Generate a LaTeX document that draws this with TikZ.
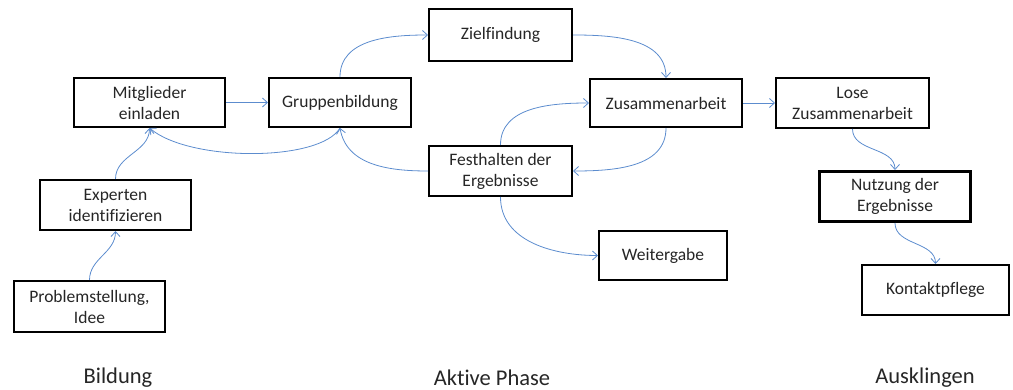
\documentclass[tikz,border=0pt]{standalone}
\usepackage{fontspec}
\setmainfont[Ligatures=NoCommon]{Carlito}
\usetikzlibrary{arrows.meta}
\definecolor{flow}{RGB}{92,140,206}
\tikzset{
  stage/.style={draw=black, line width=2pt, fill=white, align=center,
    inner sep=2pt, font=\fontsize{17.5}{21}\selectfont, text=black!85},
  flowline/.style={draw=flow, line width=0.8pt,
    -{Straight Barb[length=5pt,width=9pt,line width=0.8pt]}},
  phase/.style={font=\fontsize{22.5}{26}\selectfont, text=black!85}
}
\begin{document}
\begin{tikzpicture}[x=1pt,y=-1pt]
  \useasboundingbox (0,0) rectangle (1013,390);
  % Bildung
  \node[stage, minimum width=151pt, minimum height=51pt] (prob) at (89.5,306.5) {Problemstellung,\\Idee};
  \node[stage, minimum width=151pt, minimum height=50pt] (exp) at (115.5,205) {Experten\\identifizieren};
  \node[stage, minimum width=151pt, minimum height=49pt] (mit) at (149.5,102.5) {Mitglieder\\einladen};
  % Aktive Phase
  \node[stage, minimum width=142pt, minimum height=49pt] (grp) at (340,102.5) {Gruppenbildung};
  \node[stage, minimum width=143pt, minimum height=52pt] (ziel) at (500.5,35) {Zielfindung};
  \node[stage, minimum width=152pt, minimum height=48pt] (zus) at (666,103) {Zusammenarbeit};
  \node[stage, minimum width=143pt, minimum height=50pt] (fest) at (500.5,171) {Festhalten der\\Ergebnisse};
  \node[stage, minimum width=128pt, minimum height=49pt] (weit) at (663,255.5) {Weitergabe};
  % Ausklingen
  \node[stage, minimum width=153pt, minimum height=50pt] (lose) at (852.5,103) {Lose\\Zusammenarbeit};
  \node[stage, line width=3pt, minimum width=151pt, minimum height=50pt] (nutz) at (895,196.5) {Nutzung der\\Ergebnisse};
  \node[stage, minimum width=147pt, minimum height=50pt] (kont) at (935.5,290) {Kontaktpflege};
  % phase labels
  \node[phase] (l1) at (118,378) {Bildung};
  \node[phase] (l2) at (492,378) {Aktive Phase};
  \node[phase] (l3) at (925,378) {Ausklingen};
  % connectors
  \draw[flowline] (prob.north) to[out=90,in=-90] (exp.south);
  \draw[flowline] (exp.north) to[out=90,in=-90] (mit.south);
  \draw[flowline] (mit.east) -- (grp.west);
  \draw[flowline] (grp.south) .. controls +(-20,34) and +(40,34) .. (mit.south);
  \draw[flowline] (grp.north) to[out=90,in=180] (ziel.west);
  \draw[flowline] (ziel.east) to[out=0,in=90] (zus.north);
  \draw[flowline] (zus.south) to[out=-90,in=0] (fest.east);
  \draw[flowline] (fest.north) to[out=90,in=180] (zus.west);
  \draw[flowline] (fest.west) to[out=180,in=-80] (grp.south);
  \draw[flowline] (fest.south) to[out=-90,in=180] (weit.west);
  \draw[flowline] (zus.east) -- (lose.west);
  \draw[flowline] (lose.south) to[out=-90,in=90] (nutz.north);
  \draw[flowline] (nutz.south) to[out=-90,in=90] (kont.north);
\end{tikzpicture}
\end{document}
